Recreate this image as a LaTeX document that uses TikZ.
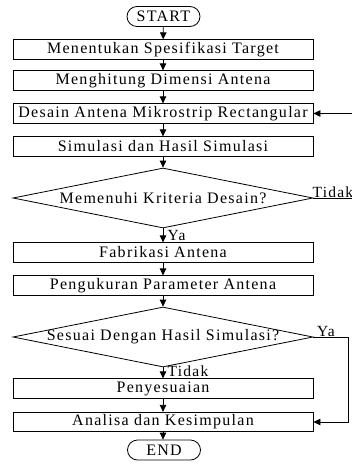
\documentclass[tikz,border=0pt]{standalone}
\usepackage{fontspec}
\setmainfont{Liberation Serif}[LetterSpace=8]
\usetikzlibrary{arrows.meta,shapes.geometric,calc}
\begin{document}
\begin{tikzpicture}[x=1pt,y=-1pt,
  txt/.style={font=\fontsize{16}{18}\selectfont},
  box/.style={txt,draw,line width=0.8pt,minimum width=300pt,minimum height=19.5pt,inner sep=0pt},
  term/.style={txt,draw,line width=0.8pt,rounded corners=10pt,minimum width=73pt,minimum height=20pt,inner sep=0pt},
  dec/.style={draw,line width=0.8pt,diamond,aspect=5,minimum width=300pt,minimum height=60pt,inner sep=0pt},
  lbl/.style={font=\fontsize{15.5}{17}\selectfont,inner sep=0.5pt},
  arr/.style={line width=0.8pt,-{Triangle[width=6.5pt,length=7pt]}}]
\useasboundingbox (0,0) rectangle (352,466);
\node[term] (start) at (163.5,16.5) {START};
\node[box] (r1) at (163,49.5) {Menentukan Spesifikasi Target};
\node[box] (r2) at (163,80.5) {Menghitung Dimensi Antena};
\node[box] (r3) at (163,113.5) {Desain Antena Mikrostrip Rectangular};
\node[box] (r4) at (163,146.5) {Simulasi dan Hasil Simulasi};
\node[dec] (d1) at (163,198) {};
\node[txt] (d1t) at (d1) {Memenuhi Kriteria Desain?};
\node[box] (r5) at (163,252.5) {Fabrikasi Antena};
\node[box] (r6) at (163,285.5) {Pengukuran Parameter Antena};
\node[dec] (d2) at (163,337) {};
\node[txt] (d2t) at (d2) {Sesuai Dengan Hasil Simulasi?};
\node[box] (r7) at (163,388.5) {Penyesuaian};
\node[box] (r8) at (163,422) {Analisa dan Kesimpulan};
\node[term] (end) at (164,450) {END};
\draw[arr] (start) -- (r1);
\draw[arr] (r1) -- (r2);
\draw[arr] (r2) -- (r3);
\draw[arr] (r3) -- (r4);
\draw[arr] (r4) -- (d1);
\draw[arr] (d1) -- (r5);
\draw[arr] (r5) -- (r6);
\draw[arr] (r6) -- (d2);
\draw[arr] (d2) -- (r7);
\draw[arr] (r7) -- (r8);
\draw[arr] (r8) -- (end.north -| r8.south);
\draw[arr] (d1.east) -- ++(46,0) |- (r3.east);
\draw[arr] (d2.east) -- ++(34.5,0) |- (r8.east);
\node[lbl,anchor=south west,xshift=-1.5pt] at (d1.east) {Tidak};
\node[lbl,anchor=south west,xshift=3pt] at (d2.east) {Ya};
\node[lbl,anchor=west,xshift=4pt] at ($(d1.south)!0.5!(r5.north)$) {Ya};
\node[lbl,anchor=west,xshift=4pt,yshift=1.5pt] at ($(d2.south)!0.5!(r7.north)$) {Tidak};
\end{tikzpicture}
\end{document}
